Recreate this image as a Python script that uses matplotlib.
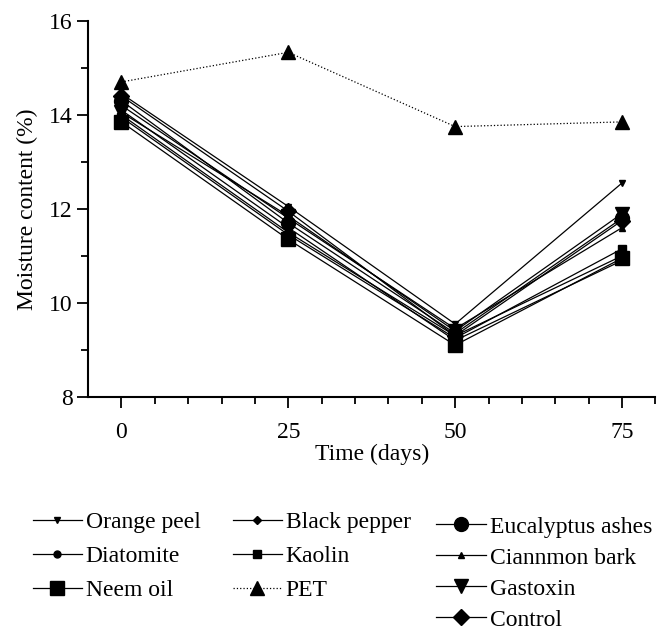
import matplotlib
matplotlib.use('Agg')
import matplotlib.pyplot as plt
from matplotlib.ticker import FixedLocator

# ======================
# DATA
# ======================
days = [0, 25, 50, 75]

orange_peel = [14.45, 12.05, 9.55, 12.55]
diatomite = [14.10, 11.60, 9.20, 10.90]
neem_oil = [13.85, 11.35, 9.10, 10.95]
black_pepper = [14.00, 11.50, 9.30, 11.00]
kaolin = [13.95, 11.45, 9.25, 11.15]
pet = [14.70, 15.33, 13.75, 13.85]
eucalyptus = [14.30, 11.70, 9.35, 11.80]
cinnamon = [14.20, 11.80, 9.45, 11.60]
gastoxin = [14.05, 11.85, 9.40, 11.90]
control = [14.40, 11.95, 9.30, 11.75]

x_ticks = [0, 25, 50, 75]
y_ticks = [8, 10, 12, 14, 16]

# ======================
# STYLE
# ======================
plt.rcParams['font.family'] = ['Liberation Serif', 'DejaVu Serif']
plt.rcParams['font.size'] = 17

fig = plt.figure(figsize=(6.62, 6.31), dpi=100)
ax = fig.add_axes([0.133, 0.371, 0.857, 0.596])

lw = 0.9
series = [
    ('Orange peel', orange_peel, 'v', 5, '-'),
    ('Diatomite', diatomite, 'o', 5, '-'),
    ('Neem oil', neem_oil, 's', 10, '-'),
    ('Black pepper', black_pepper, 'D', 4, '-'),
    ('Kaolin', kaolin, 's', 6, '-'),
    ('PET', pet, '^', 10, ':'),
    ('Eucalyptus ashes', eucalyptus, 'o', 10, '-'),
    ('Ciannmon bark', cinnamon, '^', 5, '-'),
    ('Gastoxin', gastoxin, 'v', 10, '-'),
    ('Control', control, 'D', 8, '-'),
]

handles = {}
for name, vals, mk, ms, ls in series:
    h, = ax.plot(days, vals, color='black', linestyle=ls, linewidth=lw,
                 marker=mk, markersize=ms, label=name)
    handles[name] = h

ax.set_xlim(-5, 80)
ax.set_ylim(8, 16)
ax.spines['top'].set_visible(False)
ax.spines['right'].set_visible(False)
ax.spines['left'].set_linewidth(1.5)
ax.spines['bottom'].set_linewidth(1.5)

ax.xaxis.set_major_locator(FixedLocator(x_ticks))
ax.xaxis.set_minor_locator(FixedLocator([v for v in range(5, 81, 5) if v % 25 != 0]))
ax.yaxis.set_major_locator(FixedLocator(y_ticks))
ax.yaxis.set_minor_locator(FixedLocator([9, 11, 13, 15]))
ax.tick_params(which='major', length=8, width=1.3, direction='out')
ax.tick_params(which='minor', length=5, width=1.3, direction='out')
ax.tick_params(axis='x', which='major', pad=10)
ax.tick_params(axis='y', which='major', pad=3)

ax.set_xlabel('Time (days)', labelpad=1)
ax.set_ylabel('Moisture content (%)', labelpad=8)

# Legend in three columns below the graph
cols = [
    (['Orange peel', 'Diatomite', 'Neem oil'], 0.035, 0.204, 0.52),
    (['Black pepper', 'Kaolin', 'PET'], 0.337, 0.204, 0.52),
    (['Eucalyptus ashes', 'Ciannmon bark', 'Gastoxin', 'Control'], 0.645, 0.197, 0.40),
]
for names, xpos, top, spacing in cols:
    fig.legend([handles[n] for n in names], names, loc='upper left',
               bbox_to_anchor=(xpos, top), frameon=False,
               handlelength=2.1, handletextpad=0.15, labelspacing=spacing,
               borderaxespad=0.0, fontsize=17)

plt.savefig('out.png', dpi=100)
